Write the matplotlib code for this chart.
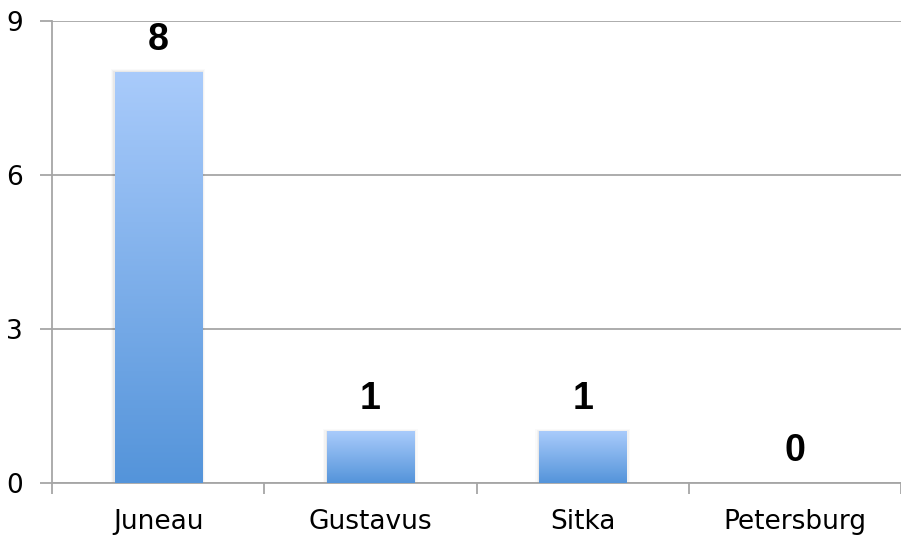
import matplotlib
matplotlib.use('Agg')
import matplotlib.pyplot as plt
from matplotlib.colors import LinearSegmentedColormap
import numpy as np

# data
cities = ['Juneau', 'Gustavus', 'Sitka', 'Petersburg']
counts = [8, 1, 1, 0]
yticks = [0, 3, 6, 9]

grid_col = '#a6a6a6'
grad = LinearSegmentedColormap.from_list('bar', ['#5494da', '#a9cbfb'])

fig = plt.figure(figsize=(9.01, 5.38), dpi=100)
ax = fig.add_axes([52 / 901, 55 / 538, 849 / 901, 462 / 538])

x = np.arange(len(cities))
width = 0.41
bars = ax.bar(x, counts, width=width, color='none', edgecolor='none', zorder=3)

# gradient fill per bar, plus soft shadow
for b in bars:
    x0, h = b.get_x(), b.get_height()
    if h <= 0:
        continue
    for k, a in enumerate([0.04, 0.03, 0.02]):
        d = 0.006 * (k + 1)
        ax.add_patch(plt.Rectangle((x0 - d, 0), width + 2 * d, h + 0.02 * (k + 1),
                                   color='black', alpha=a, lw=0, zorder=2))
    img = np.linspace(0, 1, 256).reshape(-1, 1)
    ax.imshow(img, cmap=grad, aspect='auto', origin='lower',
              extent=[x0, x0 + width, 0, h], zorder=3)

for xi, v in zip(x, counts):
    ax.text(xi, v + 0.28, str(v), ha='center', va='bottom', fontsize=27,
            fontweight='bold', family='Liberation Sans', zorder=4)

ax.set_xlim(-0.5, len(cities) - 0.5)
ax.set_ylim(0, 9)
ax.set_yticks(yticks)
ax.set_yticklabels([str(t) for t in yticks], fontsize=19, family='DejaVu Sans')
ax.yaxis.grid(True, color=grid_col, lw=1.3, zorder=1)
ax.set_axisbelow(True)

ax.set_xticks(x)
ax.set_xticklabels(cities, fontsize=19, family='DejaVu Sans')
ax.tick_params(axis='x', length=0, pad=19)
ax.set_xticks(np.arange(-0.5, len(cities) - 0.4, 1), minor=True)
ax.tick_params(axis='x', which='minor', length=8, width=1.3, color=grid_col, direction='out')
ax.tick_params(axis='y', length=9, width=1.3, color=grid_col, pad=12)

for s in ['top', 'right']:
    ax.spines[s].set_visible(False)
for s in ['left', 'bottom']:
    ax.spines[s].set_color(grid_col)
    ax.spines[s].set_linewidth(1.3)

fig.savefig('out.png', dpi=100)
